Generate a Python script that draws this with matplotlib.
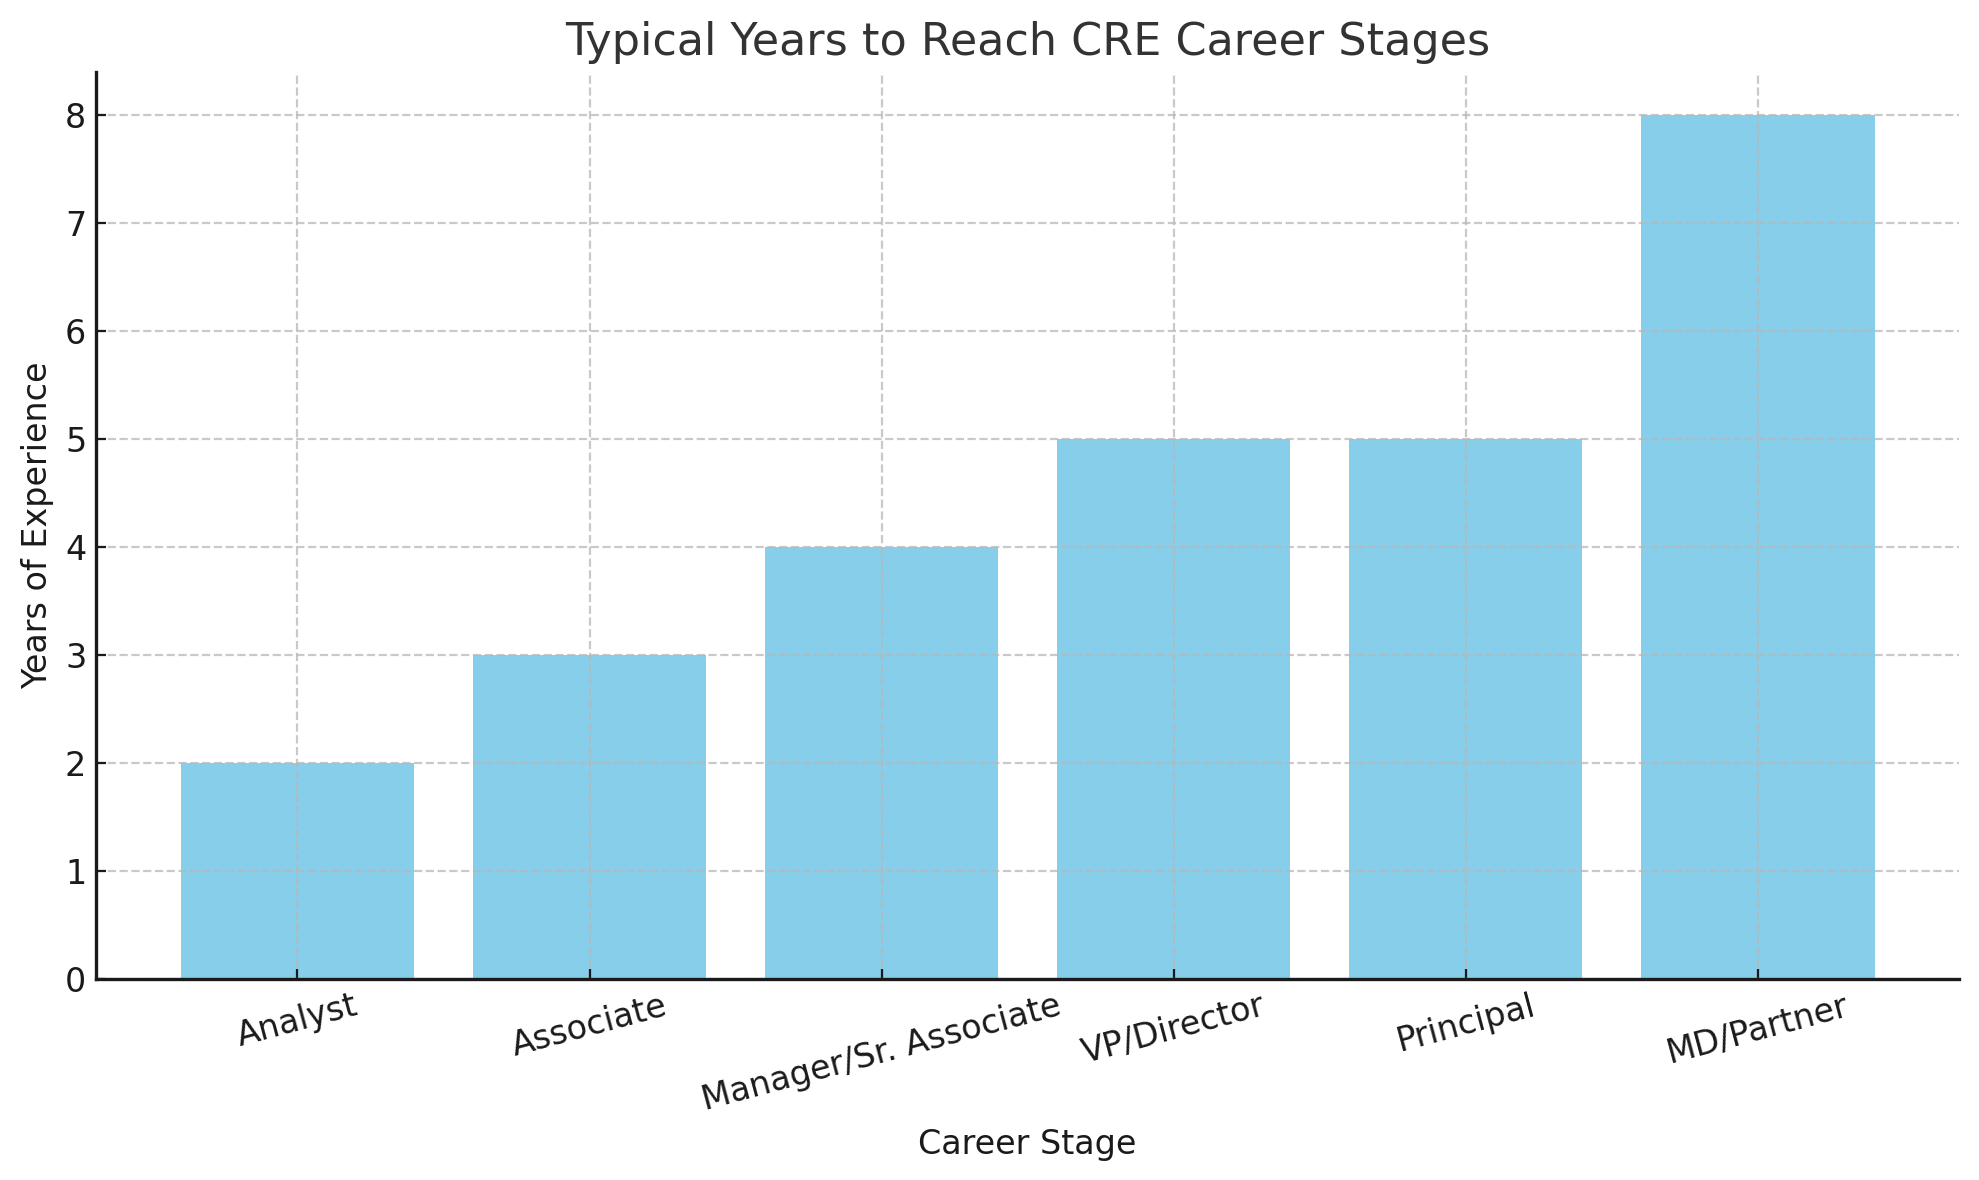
import matplotlib.pyplot as plt

plt.switch_backend('Agg')

# Career stages and typical years to reach them
stages = ["Analyst", "Associate", "Manager/Sr. Associate", "VP/Director", "Principal", "MD/Partner"]
years = [2, 3, 4, 5, 5, 8]

fig = plt.figure(figsize=(9.895, 5.9), dpi=200)
ax = fig.add_axes([0.0485, 0.170, 0.9415, 0.769])

ax.bar(stages, years, color="skyblue", zorder=1)

ax.set_title("Typical Years to Reach CRE Career Stages", fontsize=16, color="#333333")
ax.set_xlabel("Career Stage", fontsize=12, color="#1a1a1a")
ax.set_ylabel("Years of Experience", fontsize=12, color="#1a1a1a")
ax.tick_params(axis="both", labelsize=12, colors="#1a1a1a", direction="in")
plt.xticks(rotation=15)

# grid sits on top of the bars, as in the original
ax.set_axisbelow(False)
ax.grid(True, linestyle="--", color="#b8b8b8", alpha=0.75, linewidth=0.8, zorder=3)
ax.spines["top"].set_visible(False)
ax.spines["right"].set_visible(False)
for s in ("left", "bottom"):
    ax.spines[s].set_linewidth(1.2)
    ax.spines[s].set_color("#1a1a1a")
    ax.spines[s].set_zorder(4)

fig.savefig("out.png", dpi=200)
plt.close(fig)
